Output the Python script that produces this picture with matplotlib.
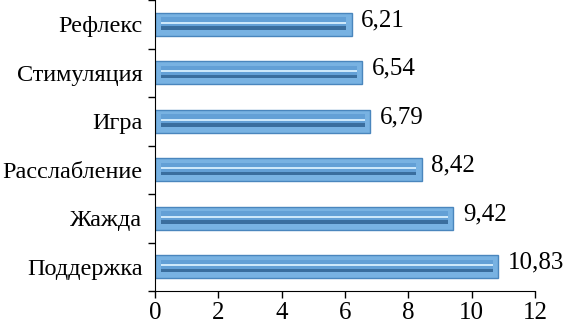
import matplotlib
matplotlib.use("Agg")
import matplotlib.pyplot as plt
import numpy as np

categories = ["Рефлекс", "Стимуляция", "Игра", "Расслабление", "Жажда", "Поддержка"]
values = [6.21, 6.54, 6.79, 8.42, 9.42, 10.83]
labels = ["6,21", "6,54", "6,79", "8,42", "9,42", "10,83"]
xticks = [0, 2, 4, 6, 8, 10, 12]

plt.rcParams['font.family'] = ['Liberation Serif', 'DejaVu Serif']

fig = plt.figure(figsize=(5.63, 3.27), dpi=100)
ax = fig.add_axes([155/563, 1 - 291/327, 380/563, 291/327])

n = len(categories)
y = np.arange(n)[::-1]
vals = np.array(values)

h = 0.48
ax.barh(y, vals, height=h, color='#78b2e2', edgecolor='#4a86bd', linewidth=1.0, zorder=2)
# bevel: inner face, light top line, dark bottom band
ax.barh(y + 0.02, vals - 0.35, left=0.18, height=h * 0.5, color='#63a0d6',
        edgecolor='none', zorder=3)
ax.barh(y - h * 0.16, vals - 0.35, left=0.18, height=h * 0.16, color='#3a6e9e',
        edgecolor='none', zorder=4)
ax.barh(y + h * 0.07, vals - 0.35, left=0.18, height=h * 0.08, color='#cde8fa',
        edgecolor='none', zorder=4)

for yi, v, lab in zip(y, vals, labels):
    ax.text(v + 0.3, yi + 0.08, lab, va='center', ha='left', fontsize=18)

ax.set_xlim(0, 12)
ax.set_ylim(-0.5, n - 0.5)
ax.set_xticks(xticks)
ax.set_xticklabels([str(t) for t in xticks], fontsize=18)
ax.set_yticks(y)
ax.set_yticklabels(categories, fontsize=17.5)
ax.set_yticks(np.arange(-0.5, n, 1.0), minor=True)
ax.tick_params(axis='y', which='major', length=0, pad=9)
ax.tick_params(axis='y', which='minor', length=5, width=1, color='black', direction='out')
ax.tick_params(axis='x', length=5, width=1, direction='out', pad=3)
for s in ['top', 'right']:
    ax.spines[s].set_visible(False)
ax.spines['left'].set_color('black')
ax.spines['bottom'].set_color('black')

fig.savefig('out.png', dpi=100)
